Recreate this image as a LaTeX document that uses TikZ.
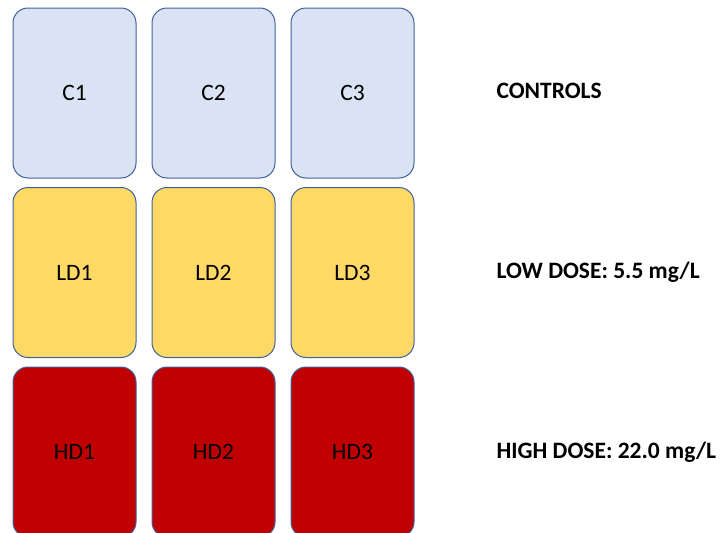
\documentclass[tikz,border=0pt]{standalone}
\usepackage{fontspec}
\setmainfont{Carlito}
\usepackage{xcolor}
\usepackage{tikz}
\usetikzlibrary{positioning}

\definecolor{ctrlblue}{HTML}{DAE3F3}
\definecolor{lowyellow}{HTML}{FFD966}
\definecolor{highred}{HTML}{C00000}
\definecolor{edgeblue}{HTML}{41609A}

\begin{document}
\begin{tikzpicture}[
    x=1pt, y=-1pt,
    every node/.style={font=\fontsize{23.5}{28}\selectfont},
    tank/.style={draw=edgeblue, line width=1pt, rounded corners=15pt, minimum width=123pt, minimum height=170pt, inner sep=0pt},
    ctrl/.style={tank, fill=ctrlblue},
    low/.style={tank, fill=lowyellow},
    high/.style={tank, fill=highred},
    group/.style={anchor=west, font=\fontsize{23.5}{28}\selectfont\bfseries},
    node distance=8.5pt and 15pt
]
\clip (0,0) rectangle (721,533);
\useasboundingbox (0,0) rectangle (721,533);
% controls
\node[ctrl] (c1) at (74.5,93) {C1};
\node[ctrl, right=of c1] (c2) {C2};
\node[ctrl, right=of c2] (c3) {C3};
% low dose
\node[low, below=of c1] (ld1) {LD1};
\node[low, right=of ld1] (ld2) {LD2};
\node[low, right=of ld2] (ld3) {LD3};
% high dose
\node[high, below=of ld1] (hd1) {HD1};
\node[high, right=of hd1] (hd2) {HD2};
\node[high, right=of hd2] (hd3) {HD3};
% group labels
\node[group] (ctrllabel) at (493,91) {CONTROLS};
\node[group] (lowlabel) at (493,272) {LOW DOSE: 5.5 mg/L};
\node[group] (highlabel) at (493,452) {HIGH DOSE: 22.0 mg/L};
\end{tikzpicture}
\end{document}
